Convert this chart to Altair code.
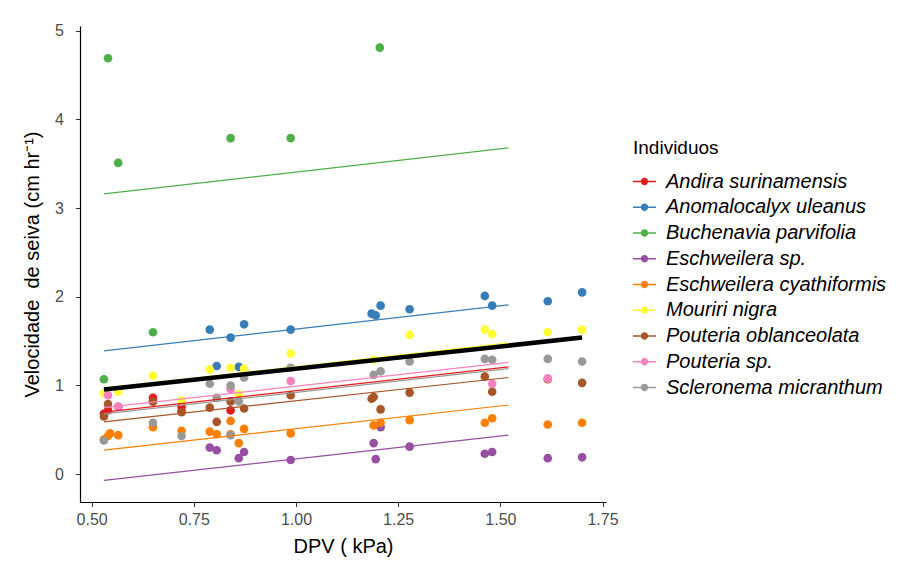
import altair as alt
import pandas as pd

species = [
    "Andira surinamensis", "Anomalocalyx uleanus", "Buchenavia parvifolia",
    "Eschweilera sp.", "Eschweilera cyathiformis", "Mouriri nigra",
    "Pouteria oblanceolata", "Pouteria sp.", "Scleronema micranthum",
]
colors = ["#E41A1C", "#377EB8", "#4DAF4A", "#984EA3", "#FF7F00",
          "#FFFF33", "#A65628", "#F781BF", "#999999"]

# observed points (DPV kPa, sap velocity cm/hr)
andira_dpv = [0.53, 0.54, 0.565, 0.65, 0.65, 0.72, 0.72, 0.84]
andira_vel = [0.68, 0.72, 0.76, 0.86, 0.82, 0.76, 0.71, 0.72]
anomalo_dpv = [0.789, 0.806, 0.84, 0.86, 0.873, 0.987, 1.185, 1.195, 1.207, 1.278, 1.462, 1.48, 1.616, 1.70]
anomalo_vel = [1.63, 1.22, 1.54, 1.21, 1.69, 1.63, 1.81, 1.79, 1.90, 1.86, 2.01, 1.90, 1.95, 2.05]
buchen_dpv = [0.53, 0.54, 0.565, 0.65, 0.84, 0.987, 1.205]
buchen_vel = [1.07, 4.69, 3.51, 1.60, 3.79, 3.79, 4.81]
eschsp_dpv = [0.789, 0.806, 0.86, 0.873, 0.987, 1.19, 1.195, 1.207, 1.278, 1.462, 1.48, 1.616, 1.70]
eschsp_vel = [0.30, 0.27, 0.18, 0.25, 0.16, 0.35, 0.17, 0.53, 0.31, 0.23, 0.25, 0.18, 0.19]
eschcy_dpv = [0.53, 0.54, 0.545, 0.565, 0.65, 0.72, 0.789, 0.806, 0.84, 0.84, 0.86, 0.873, 0.987, 1.19, 1.207, 1.278, 1.462, 1.48, 1.616, 1.70]
eschcy_vel = [0.39, 0.43, 0.46, 0.44, 0.53, 0.49, 0.48, 0.45, 0.60, 0.45, 0.35, 0.51, 0.46, 0.55, 0.58, 0.61, 0.58, 0.63, 0.56, 0.58]
mouriri_dpv = [0.53, 0.565, 0.65, 0.72, 0.789, 0.806, 0.84, 0.86, 0.873, 0.987, 1.19, 1.278, 1.462, 1.48, 1.616, 1.70]
mouriri_vel = [0.91, 0.93, 1.11, 0.83, 1.18, 0.86, 1.20, 0.90, 1.19, 1.36, 1.29, 1.57, 1.63, 1.58, 1.60, 1.63]
poblan_dpv = [0.53, 0.54, 0.65, 0.72, 0.789, 0.806, 0.84, 0.873, 0.987, 1.185, 1.19, 1.207, 1.278, 1.462, 1.48, 1.616, 1.70]
poblan_vel = [0.65, 0.79, 0.82, 0.70, 0.75, 0.59, 0.82, 0.74, 0.89, 0.85, 0.87, 0.73, 0.92, 1.10, 0.93, 1.07, 1.03]
poutsp_dpv = [0.54, 0.565, 0.84, 0.987, 1.48, 1.616]
poutsp_vel = [0.89, 0.76, 0.96, 1.05, 1.02, 1.08]
sclero_dpv = [0.53, 0.65, 0.72, 0.789, 0.806, 0.84, 0.84, 0.86, 0.873, 0.987, 1.19, 1.207, 1.278, 1.462, 1.48, 1.616, 1.70]
sclero_vel = [0.38, 0.58, 0.43, 1.02, 0.86, 1.00, 0.44, 0.82, 1.09, 1.20, 1.12, 1.16, 1.27, 1.30, 1.29, 1.30, 1.27]

dpv_lists = [andira_dpv, anomalo_dpv, buchen_dpv, eschsp_dpv, eschcy_dpv,
             mouriri_dpv, poblan_dpv, poutsp_dpv, sclero_dpv]
vel_lists = [andira_vel, anomalo_vel, buchen_vel, eschsp_vel, eschcy_vel,
             mouriri_vel, poblan_vel, poutsp_vel, sclero_vel]

# fitted lines per species (value at start / end of fitted range)
fit_x = [0.53, 1.52]
fit_start = [0.70, 1.39, 3.16, -0.07, 0.27, 0.97, 0.59, 0.75, 0.68]
fit_end = [1.21, 1.91, 3.68, 0.44, 0.78, 1.48, 1.09, 1.26, 1.19]
# overall fitted line
overall_x = [0.53, 1.70]
overall_y = [0.955, 1.54]

rows = []
for sp, xs, ys in zip(species, dpv_lists, vel_lists):
    for xv, yv in zip(xs, ys):
        rows.append({"sp": sp, "dpv": xv, "vel": yv})
pts = pd.DataFrame(rows)

lrows = []
for sp, a, b in zip(species, fit_start, fit_end):
    lrows.append({"sp": sp, "dpv": fit_x[0], "vel": a})
    lrows.append({"sp": sp, "dpv": fit_x[1], "vel": b})
lines = pd.DataFrame(lrows)
overall = pd.DataFrame({"dpv": overall_x, "vel": overall_y})

xscale = alt.Scale(domain=[0.4715, 1.7585], nice=False, zero=False)
yscale = alt.Scale(domain=[-0.314, 5.054], nice=False, zero=False)

xaxis = alt.Axis(title="DPV ( kPa)", values=[0.5, 0.75, 1.0, 1.25, 1.5, 1.75],
                 format=".2f", grid=False)
yaxis = alt.Axis(title="Velocidade\u00a0\u00a0de seiva\u00a0(cm hr\u207b\u00b9)",
                 values=[0, 1, 2, 3, 4, 5], format="d", grid=False)

legend_symbol = ("M-1,-0.07H1V0.07H-1Z"
                 "M-0.32,0A0.32,0.32,0,1,1,0.32,0A0.32,0.32,0,1,1,-0.32,0Z")
legend = alt.Legend(title="Individuos", orient="none", legendX=553, legendY=113,
                    symbolType=legend_symbol, symbolSize=529, symbolStrokeWidth=0,
                    labelFontStyle="italic", labelFontSize=20, titleFontSize=19,
                    titleFontWeight="normal", labelColor="black", titleColor="black",
                    labelFont="Liberation Sans", titleFont="Liberation Sans",
                    labelLimit=0, rowPadding=3.75, titlePadding=12, labelOffset=10)

color = alt.Color("sp:N", scale=alt.Scale(domain=species, range=colors),
                  legend=legend)

pts_layer = alt.Chart(pts).mark_circle(size=75, opacity=1).encode(
    x=alt.X("dpv:Q", scale=xscale, axis=xaxis),
    y=alt.Y("vel:Q", scale=yscale, axis=yaxis),
    color=color,
)

line_layer = alt.Chart(lines).mark_line(strokeWidth=1.2).encode(
    x=alt.X("dpv:Q", scale=xscale),
    y=alt.Y("vel:Q", scale=yscale),
    color=color,
    detail="sp:N",
)

overall_layer = alt.Chart(overall).mark_line(strokeWidth=4.5, color="black").encode(
    x=alt.X("dpv:Q", scale=xscale),
    y=alt.Y("vel:Q", scale=yscale),
)

chart = alt.layer(pts_layer, line_layer, overall_layer).properties(
    width=526, height=476,
    autosize=alt.AutoSizeParams(type="none"),
    padding={"left": 80, "top": 26, "right": 300, "bottom": 64},
    background="white",
).configure_view(stroke=None).configure_axis(
    domainColor="black", domainWidth=1.2, tickColor="#333333", tickSize=4.5,
    labelColor="#4D4D4D", labelFontSize=16, labelFont="Liberation Sans",
    titleFont="Liberation Sans", titleFontSize=20, titleFontWeight="normal",
    titleColor="black",
).configure_axisX(titlePadding=9, labelPadding=5).configure_axisY(
    titlePadding=12, labelPadding=12)

chart.save("out.html", embed_options={"renderer": "svg", "actions": False})
